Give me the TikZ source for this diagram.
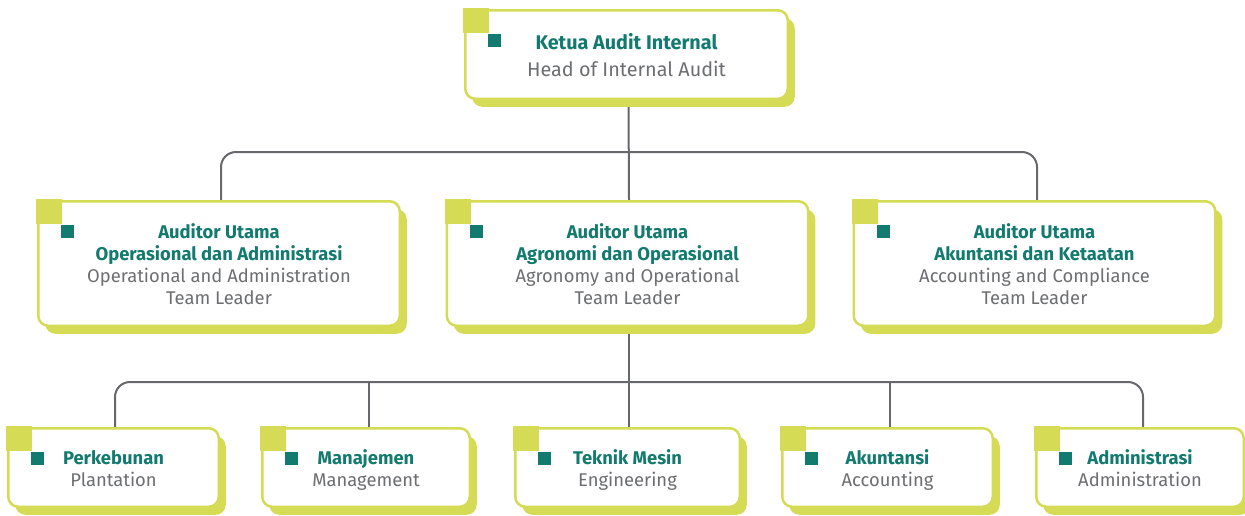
\documentclass[tikz,border=0pt]{standalone}
\usepackage{fontspec}
\setmainfont{Fira Sans}
\usetikzlibrary{shadows,backgrounds,calc}
\definecolor{limeedge}{HTML}{D5DB55}
\definecolor{limeshade}{HTML}{D5DB55}
\definecolor{deepteal}{HTML}{127A6E}
\definecolor{textgray}{HTML}{6D6E71}
\definecolor{linkgray}{HTML}{67686B}
\newcommand{\ttl}[1]{{\color{deepteal}\bfseries #1}}
% fixed top and bottom extents so every box centres its lines alike
\newcommand{\opentext}{\rule{0pt}{22pt}}
\newcommand{\closetext}{\rule[-6pt]{0pt}{6pt}}
\tikzset{
  orgbox/.style={draw=limeedge, line width=2.5pt, fill=white, rounded corners=10pt,
    inner sep=0pt, align=center, text=textgray,
    font=\fontsize{18.4}{22}\selectfont,
    drop shadow={shadow xshift=7pt, shadow yshift=-8pt, fill=limeshade, opacity=1}},
  topbox/.style={orgbox, minimum width=322.5pt, minimum height=88.5pt,
    font=\fontsize{19.8}{27}\selectfont},
  midbox/.style={orgbox, minimum width=361.5pt, minimum height=124.5pt},
  lowbox/.style={orgbox, minimum height=78.5pt},
  link/.style={draw=linkgray, line width=2pt},
  bus/.style={link, rounded corners=15pt},
}
\begin{document}
\begin{tikzpicture}[x=1pt,y=1pt]
\useasboundingbox (0,0) rectangle (1245,-515);

% head of the unit
\node[topbox] (head) at (626.5,-54.5)
  {\opentext\ttl{Ketua Audit Internal}\\Head of Internal Audit\closetext};

% team leaders
\node[midbox] (opA) at (219,-263.5)
  {\opentext\ttl{Auditor Utama}\\\ttl{Operasional dan Administrasi}\\Operational and Administration\\Team Leader\closetext};
\node[midbox] (opB) at (627.5,-263.5)
  {\opentext\ttl{Auditor Utama}\\\ttl{Agronomi dan Operasional}\\Agronomy and Operational\\Team Leader\closetext};
\node[midbox] (opC) at (1034.5,-263.5)
  {\opentext\ttl{Auditor Utama}\\\ttl{Akuntansi dan Ketaatan}\\Accounting and Compliance\\Team Leader\closetext};

% auditors
\node[lowbox, minimum width=210.5pt] (b1) at (113.5,-467.5) {\opentext\ttl{Perkebunan}\\Plantation\closetext};
\node[lowbox, minimum width=207.5pt] (b2) at (366,-467.5) {\opentext\ttl{Manajemen}\\Management\closetext};
\node[lowbox, minimum width=224.5pt] (b3) at (627.5,-467.5) {\opentext\ttl{Teknik Mesin}\\Engineering\closetext};
\node[lowbox, minimum width=210.5pt] (b4) at (887.5,-467.5) {\opentext\ttl{Akuntansi}\\Accounting\closetext};
\node[lowbox, minimum width=207.5pt] (b5) at (1140,-467.5) {\opentext\ttl{Administrasi}\\Administration\closetext};

% corner markers
\foreach \n in {head,opA,opB,opC,b1,b2,b3,b4,b5}{
  \fill[limeedge] ($(\n.north west)+(-1,1)$) rectangle ++(26,-25);
  \fill[deepteal] ($(\n.north west)+(24,-25)$) rectangle ++(13,-13);
}

% connectors
\coordinate (busA) at (629,-152);
\coordinate (busB) at (629,-382);
\begin{pgfonlayer}{background}
  \draw[link] ([xshift=2pt]head.south) -- ([xshift=1.5pt]opB.north);
  \draw[bus] ([xshift=2pt]opA.north) |- (busA) -| ([xshift=2.5pt]opC.north);
  \draw[link] ([xshift=1.5pt]opB.south) -- ([xshift=1.5pt]b3.north);
  \draw[bus] ([xshift=1.5pt]b1.north) |- (busB) -| ([xshift=3pt]b5.north);
  \draw[link] ([xshift=3pt]b2.north) -- ([xshift=3pt]b2.north |- busB);
  \draw[link] ([xshift=2.5pt]b4.north) -- ([xshift=2.5pt]b4.north |- busB);
\end{pgfonlayer}
\end{tikzpicture}
\end{document}
